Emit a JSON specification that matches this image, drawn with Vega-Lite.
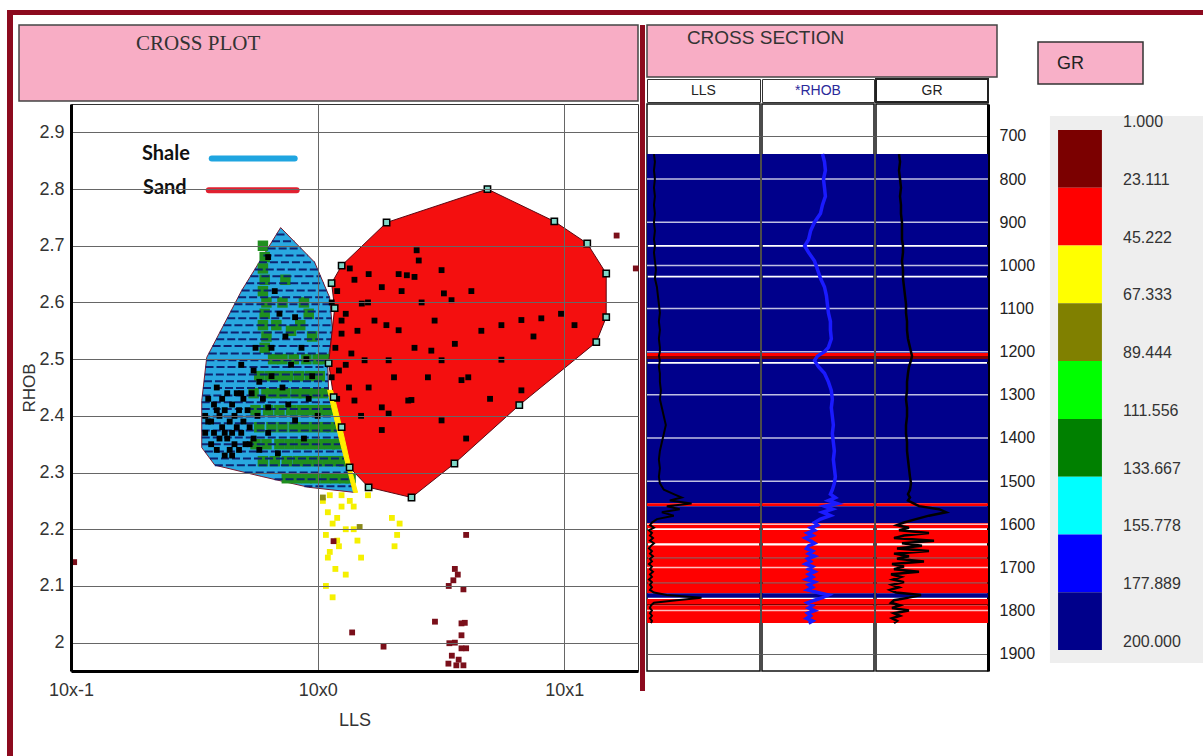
{
"$schema": "https://vega.github.io/schema/vega-lite/v6.json",
"padding": {"left": 7, "top": 10, "right": 0, "bottom": 0},
"background": "white",
"config": {"view": {"stroke": null}, "font": "Liberation Sans"},
"datasets": {
"shale": [
{"i":0,"LLS":0.708,"RHOB":2.732},{"i":1,"LLS":0.972,"RHOB":2.671},{"i":2,"LLS":1.118,"RHOB":2.609},{"i":3,"LLS":1.150,"RHOB":2.551},{"i":4,"LLS":1.098,"RHOB":2.494},{"i":5,"LLS":1.108,"RHOB":2.440},{"i":6,"LLS":1.412,"RHOB":2.265},{"i":7,"LLS":0.920,"RHOB":2.274},{"i":8,"LLS":0.594,"RHOB":2.293},{"i":9,"LLS":0.383,"RHOB":2.313},{"i":10,"LLS":0.339,"RHOB":2.344},{"i":11,"LLS":0.339,"RHOB":2.427},{"i":12,"LLS":0.355,"RHOB":2.503},{"i":13,"LLS":0.492,"RHOB":2.621}],
"sand": [
{"i":0,"LLS":4.88,"RHOB":2.800},{"i":1,"LLS":9.11,"RHOB":2.743},{"i":2,"LLS":12.39,"RHOB":2.704},{"i":3,"LLS":14.79,"RHOB":2.651},{"i":4,"LLS":14.79,"RHOB":2.574},{"i":5,"LLS":13.48,"RHOB":2.530},{"i":6,"LLS":6.57,"RHOB":2.419},{"i":7,"LLS":3.586,"RHOB":2.316},{"i":8,"LLS":2.402,"RHOB":2.256},{"i":9,"LLS":1.609,"RHOB":2.274},{"i":10,"LLS":1.348,"RHOB":2.309},{"i":11,"LLS":1.251,"RHOB":2.380},{"i":12,"LLS":1.161,"RHOB":2.433},{"i":13,"LLS":1.108,"RHOB":2.493},{"i":14,"LLS":1.172,"RHOB":2.590},{"i":15,"LLS":1.139,"RHOB":2.634},{"i":16,"LLS":1.251,"RHOB":2.665},{"i":17,"LLS":1.903,"RHOB":2.741}],
"yel": [
{"i":0,"LLS":1.098,"RHOB":2.445},{"i":1,"LLS":1.150,"RHOB":2.445},{"i":2,"LLS":1.262,"RHOB":2.374},{"i":3,"LLS":1.373,"RHOB":2.304},{"i":4,"LLS":1.452,"RHOB":2.265},{"i":5,"LLS":1.398,"RHOB":2.265},{"i":6,"LLS":1.228,"RHOB":2.357}],
"hatch": [
{"y":2.720,"a":0.681,"b":0.755},{"y":2.708,"a":0.653,"b":0.804},{"y":2.695,"a":0.627,"b":0.857},{"y":2.683,"a":0.603,"b":0.913},{"y":2.671,"a":0.578,"b":0.972},{"y":2.658,"a":0.556,"b":1.000},{"y":2.646,"a":0.534,"b":1.028},{"y":2.634,"a":0.513,"b":1.058},{"y":2.621,"a":0.492,"b":1.087},{"y":2.609,"a":0.476,"b":1.118},{"y":2.597,"a":0.460,"b":1.124},{"y":2.584,"a":0.444,"b":1.131},{"y":2.572,"a":0.430,"b":1.138},{"y":2.560,"a":0.415,"b":1.145},{"y":2.547,"a":0.401,"b":1.147},{"y":2.535,"a":0.388,"b":1.135},{"y":2.523,"a":0.375,"b":1.124},{"y":2.510,"a":0.362,"b":1.112},{"y":2.498,"a":0.354,"b":1.101},{"y":2.486,"a":0.351,"b":1.100},{"y":2.473,"a":0.349,"b":1.102},{"y":2.461,"a":0.346,"b":1.104},{"y":2.449,"a":0.343,"b":1.106},{"y":2.436,"a":0.341,"b":1.113},{"y":2.424,"a":0.339,"b":1.133},{"y":2.412,"a":0.339,"b":1.152},{"y":2.399,"a":0.339,"b":1.172},{"y":2.387,"a":0.339,"b":1.193},{"y":2.374,"a":0.339,"b":1.214},{"y":2.362,"a":0.339,"b":1.235},{"y":2.350,"a":0.339,"b":1.255},{"y":2.337,"a":0.349,"b":1.277},{"y":2.325,"a":0.366,"b":1.299},{"y":2.313,"a":0.383,"b":1.321},{"y":2.300,"a":0.506,"b":1.344},{"y":2.288,"a":0.669,"b":1.368},{"y":2.276,"a":0.884,"b":1.392}],
"leg": [
{"name":"Shale","tx":0.194,"ty":2.861,"a":0.372,"b":0.807,"ly":2.854},
{"name":"Sand","tx":0.196,"ty":2.801,"a":0.362,"b":0.822,"ly":2.798}],
"pts": [
{"LLS":0.60,"RHOB":2.70,"c":"g"},{"LLS":0.61,"RHOB":2.68,"c":"g"},{"LLS":0.60,"RHOB":2.66,"c":"g"},{"LLS":0.61,"RHOB":2.64,"c":"g"},{"LLS":0.60,"RHOB":2.62,"c":"g"},{"LLS":0.62,"RHOB":2.60,"c":"g"},{"LLS":0.61,"RHOB":2.58,"c":"g"},{"LLS":0.60,"RHOB":2.56,"c":"g"},{"LLS":0.62,"RHOB":2.54,"c":"g"},{"LLS":0.61,"RHOB":2.52,"c":"g"},
{"LLS":0.74,"RHOB":2.64,"c":"g"},{"LLS":0.72,"RHOB":2.60,"c":"g"},{"LLS":0.68,"RHOB":2.56,"c":"g"},{"LLS":0.78,"RHOB":2.55,"c":"g"},{"LLS":0.85,"RHOB":2.56,"c":"g"},{"LLS":0.92,"RHOB":2.58,"c":"g"},{"LLS":0.95,"RHOB":2.54,"c":"g"},{"LLS":0.88,"RHOB":2.60,"c":"g"},
{"LLS":0.66,"RHOB":2.50,"c":"g"},{"LLS":0.72,"RHOB":2.50,"c":"g"},{"LLS":0.80,"RHOB":2.50,"c":"g"},{"LLS":0.90,"RHOB":2.50,"c":"g"},{"LLS":1.0,"RHOB":2.50,"c":"g"},{"LLS":1.06,"RHOB":2.50,"c":"g"},
{"LLS":0.58,"RHOB":2.47,"c":"g"},{"LLS":0.64,"RHOB":2.47,"c":"g"},{"LLS":0.70,"RHOB":2.47,"c":"g"},{"LLS":0.76,"RHOB":2.47,"c":"g"},{"LLS":0.84,"RHOB":2.47,"c":"g"},{"LLS":0.93,"RHOB":2.47,"c":"g"},{"LLS":1.02,"RHOB":2.47,"c":"g"},
{"LLS":0.55,"RHOB":2.44,"c":"g"},{"LLS":0.62,"RHOB":2.44,"c":"g"},{"LLS":0.68,"RHOB":2.44,"c":"g"},{"LLS":0.74,"RHOB":2.44,"c":"g"},{"LLS":0.82,"RHOB":2.44,"c":"g"},{"LLS":0.88,"RHOB":2.44,"c":"g"},{"LLS":0.96,"RHOB":2.44,"c":"g"},{"LLS":1.05,"RHOB":2.44,"c":"g"},
{"LLS":0.56,"RHOB":2.41,"c":"g"},{"LLS":0.63,"RHOB":2.41,"c":"g"},{"LLS":0.70,"RHOB":2.41,"c":"g"},{"LLS":0.78,"RHOB":2.41,"c":"g"},{"LLS":0.86,"RHOB":2.41,"c":"g"},{"LLS":0.94,"RHOB":2.41,"c":"g"},{"LLS":1.02,"RHOB":2.41,"c":"g"},{"LLS":1.10,"RHOB":2.41,"c":"g"},
{"LLS":0.58,"RHOB":2.38,"c":"g"},{"LLS":0.65,"RHOB":2.38,"c":"g"},{"LLS":0.72,"RHOB":2.38,"c":"g"},{"LLS":0.80,"RHOB":2.38,"c":"g"},{"LLS":0.88,"RHOB":2.38,"c":"g"},{"LLS":0.97,"RHOB":2.38,"c":"g"},{"LLS":1.06,"RHOB":2.38,"c":"g"},{"LLS":1.14,"RHOB":2.38,"c":"g"},
{"LLS":0.56,"RHOB":2.35,"c":"g"},{"LLS":0.62,"RHOB":2.35,"c":"g"},{"LLS":0.70,"RHOB":2.35,"c":"g"},{"LLS":0.77,"RHOB":2.35,"c":"g"},{"LLS":0.85,"RHOB":2.35,"c":"g"},{"LLS":0.93,"RHOB":2.35,"c":"g"},{"LLS":1.02,"RHOB":2.35,"c":"g"},{"LLS":1.12,"RHOB":2.35,"c":"g"},{"LLS":1.20,"RHOB":2.35,"c":"g"},
{"LLS":0.60,"RHOB":2.32,"c":"g"},{"LLS":0.67,"RHOB":2.32,"c":"g"},{"LLS":0.75,"RHOB":2.32,"c":"g"},{"LLS":0.83,"RHOB":2.32,"c":"g"},{"LLS":0.91,"RHOB":2.32,"c":"g"},{"LLS":1.0,"RHOB":2.32,"c":"g"},{"LLS":1.10,"RHOB":2.32,"c":"g"},{"LLS":1.20,"RHOB":2.32,"c":"g"},{"LLS":1.28,"RHOB":2.32,"c":"g"},
{"LLS":0.75,"RHOB":2.29,"c":"g"},{"LLS":0.82,"RHOB":2.29,"c":"g"},{"LLS":0.90,"RHOB":2.29,"c":"g"},{"LLS":0.98,"RHOB":2.29,"c":"g"},{"LLS":1.08,"RHOB":2.29,"c":"g"},{"LLS":1.18,"RHOB":2.29,"c":"g"},{"LLS":1.28,"RHOB":2.29,"c":"g"},{"LLS":1.36,"RHOB":2.29,"c":"g"},
{"LLS":0.35,"RHOB":2.40,"c":"k"},{"LLS":0.35,"RHOB":2.37,"c":"k"},{"LLS":0.36,"RHOB":2.43,"c":"k"},{"LLS":0.37,"RHOB":2.35,"c":"k"},{"LLS":0.37,"RHOB":2.39,"c":"k"},{"LLS":0.38,"RHOB":2.42,"c":"k"},{"LLS":0.38,"RHOB":2.37,"c":"k"},{"LLS":0.39,"RHOB":2.45,"c":"k"},{"LLS":0.39,"RHOB":2.34,"c":"k"},{"LLS":0.40,"RHOB":2.40,"c":"k"},{"LLS":0.40,"RHOB":2.36,"c":"k"},{"LLS":0.41,"RHOB":2.43,"c":"k"},{"LLS":0.41,"RHOB":2.38,"c":"k"},{"LLS":0.42,"RHOB":2.33,"c":"k"},{"LLS":0.42,"RHOB":2.41,"c":"k"},{"LLS":0.43,"RHOB":2.36,"c":"k"},{"LLS":0.43,"RHOB":2.44,"c":"k"},{"LLS":0.44,"RHOB":2.39,"c":"k"},{"LLS":0.44,"RHOB":2.34,"c":"k"},{"LLS":0.45,"RHOB":2.42,"c":"k"},{"LLS":0.45,"RHOB":2.37,"c":"k"},{"LLS":0.46,"RHOB":2.40,"c":"k"},{"LLS":0.46,"RHOB":2.35,"c":"k"},{"LLS":0.47,"RHOB":2.44,"c":"k"},{"LLS":0.47,"RHOB":2.38,"c":"k"},{"LLS":0.48,"RHOB":2.41,"c":"k"},{"LLS":0.48,"RHOB":2.34,"c":"k"},{"LLS":0.49,"RHOB":2.37,"c":"k"},{"LLS":0.50,"RHOB":2.43,"c":"k"},{"LLS":0.50,"RHOB":2.39,"c":"k"},{"LLS":0.51,"RHOB":2.35,"c":"k"},{"LLS":0.52,"RHOB":2.41,"c":"k"},{"LLS":0.53,"RHOB":2.38,"c":"k"},{"LLS":0.54,"RHOB":2.44,"c":"k"},{"LLS":0.55,"RHOB":2.36,"c":"k"},{"LLS":0.57,"RHOB":2.40,"c":"k"},{"LLS":0.58,"RHOB":2.46,"c":"k"},{"LLS":0.60,"RHOB":2.43,"c":"k"},{"LLS":0.36,"RHOB":2.39,"c":"k"},{"LLS":0.39,"RHOB":2.41,"c":"k"},{"LLS":0.42,"RHOB":2.37,"c":"k"},{"LLS":0.45,"RHOB":2.33,"c":"k"},{"LLS":0.49,"RHOB":2.44,"c":"k"},{"LLS":0.53,"RHOB":2.35,"c":"k"},
{"LLS":0.63,"RHOB":2.68,"c":"k"},{"LLS":0.81,"RHOB":2.574,"c":"k"},{"LLS":0.74,"RHOB":2.54,"c":"k"},{"LLS":0.65,"RHOB":2.52,"c":"k"},{"LLS":0.56,"RHOB":2.52,"c":"k"},{"LLS":0.49,"RHOB":2.49,"c":"k"},{"LLS":0.86,"RHOB":2.52,"c":"k"},{"LLS":0.78,"RHOB":2.49,"c":"k"},{"LLS":0.65,"RHOB":2.47,"c":"k"},{"LLS":0.92,"RHOB":2.43,"c":"k"},{"LLS":0.72,"RHOB":2.45,"c":"k"},{"LLS":0.63,"RHOB":2.415,"c":"k"},{"LLS":0.81,"RHOB":2.392,"c":"k"},{"LLS":0.69,"RHOB":2.334,"c":"k"},{"LLS":0.58,"RHOB":2.34,"c":"k"},{"LLS":0.63,"RHOB":2.37,"c":"k"},{"LLS":0.95,"RHOB":2.47,"c":"k"},{"LLS":1.0,"RHOB":2.40,"c":"k"},{"LLS":0.88,"RHOB":2.36,"c":"k"},{"LLS":0.76,"RHOB":2.42,"c":"k"},{"LLS":0.70,"RHOB":2.58,"c":"k"},{"LLS":0.90,"RHOB":2.50,"c":"k"},{"LLS":0.55,"RHOB":2.48,"c":"k"},{"LLS":0.67,"RHOB":2.62,"c":"k"},
{"LLS":1.25,"RHOB":2.568,"c":"k"},{"LLS":1.41,"RHOB":2.64,"c":"k"},{"LLS":1.61,"RHOB":2.65,"c":"k"},{"LLS":1.82,"RHOB":2.627,"c":"k"},{"LLS":2.13,"RHOB":2.65,"c":"k"},{"LLS":2.47,"RHOB":2.645,"c":"k"},{"LLS":1.51,"RHOB":2.598,"c":"k"},{"LLS":1.25,"RHOB":2.545,"c":"k"},{"LLS":1.37,"RHOB":2.51,"c":"k"},{"LLS":1.22,"RHOB":2.48,"c":"k"},{"LLS":1.34,"RHOB":2.45,"c":"k"},{"LLS":1.61,"RHOB":2.45,"c":"k"},{"LLS":1.41,"RHOB":2.427,"c":"k"},{"LLS":1.82,"RHOB":2.415,"c":"k"},{"LLS":2.04,"RHOB":2.468,"c":"k"},{"LLS":2.47,"RHOB":2.52,"c":"k"},{"LLS":2.98,"RHOB":2.568,"c":"k"},{"LLS":3.18,"RHOB":2.498,"c":"k"},{"LLS":2.80,"RHOB":2.468,"c":"k"},{"LLS":3.6,"RHOB":2.527,"c":"k"},{"LLS":4.08,"RHOB":2.468,"c":"k"},{"LLS":2.13,"RHOB":2.551,"c":"k"},{"LLS":1.70,"RHOB":2.568,"c":"k"},{"LLS":1.94,"RHOB":2.498,"c":"k"},{"LLS":2.33,"RHOB":2.427,"c":"k"},{"LLS":1.94,"RHOB":2.404,"c":"k"},{"LLS":1.55,"RHOB":2.498,"c":"k"},{"LLS":1.14,"RHOB":2.468,"c":"k"},{"LLS":1.14,"RHOB":2.60,"c":"k"},{"LLS":2.64,"RHOB":2.60,"c":"k"},{"LLS":3.25,"RHOB":2.616,"c":"k"},{"LLS":2.57,"RHOB":2.674,"c":"k"},{"LLS":4.61,"RHOB":2.55,"c":"k"},{"LLS":5.56,"RHOB":2.56,"c":"k"},{"LLS":6.7,"RHOB":2.569,"c":"k"},{"LLS":8.07,"RHOB":2.572,"c":"k"},{"LLS":9.7,"RHOB":2.58,"c":"k"},{"LLS":3.49,"RHOB":2.604,"c":"k"},{"LLS":4.2,"RHOB":2.62,"c":"k"},{"LLS":2.89,"RHOB":2.515,"c":"k"},{"LLS":3.83,"RHOB":2.463,"c":"k"},{"LLS":5.56,"RHOB":2.499,"c":"k"},{"LLS":6.7,"RHOB":2.445,"c":"k"},{"LLS":2.4,"RHOB":2.428,"c":"k"},{"LLS":3.18,"RHOB":2.392,"c":"k"},{"LLS":1.82,"RHOB":2.375,"c":"k"},{"LLS":2.19,"RHOB":2.62,"c":"k"},{"LLS":2.52,"RHOB":2.692,"c":"k"},{"LLS":2.3,"RHOB":2.648,"c":"k"},{"LLS":3.18,"RHOB":2.657,"c":"k"},{"LLS":1.2,"RHOB":2.62,"c":"k"},{"LLS":1.3,"RHOB":2.58,"c":"k"},{"LLS":1.18,"RHOB":2.52,"c":"k"},{"LLS":1.45,"RHOB":2.55,"c":"k"},{"LLS":1.3,"RHOB":2.49,"c":"k"},{"LLS":1.2,"RHOB":2.43,"c":"k"},{"LLS":1.5,"RHOB":2.40,"c":"k"},{"LLS":7.5,"RHOB":2.54,"c":"k"},{"LLS":11,"RHOB":2.56,"c":"k"},{"LLS":5.0,"RHOB":2.43,"c":"k"},{"LLS":4.0,"RHOB":2.36,"c":"k"},{"LLS":1.35,"RHOB":2.66,"c":"k"},{"LLS":1.6,"RHOB":2.60,"c":"k"},{"LLS":1.9,"RHOB":2.56,"c":"k"},
{"LLS":1.05,"RHOB":2.25,"c":"y"},{"LLS":1.1,"RHOB":2.23,"c":"y"},{"LLS":1.15,"RHOB":2.21,"c":"y"},{"LLS":1.08,"RHOB":2.19,"c":"y"},{"LLS":1.2,"RHOB":2.22,"c":"y"},{"LLS":1.25,"RHOB":2.24,"c":"y"},{"LLS":1.3,"RHOB":2.20,"c":"y"},{"LLS":1.12,"RHOB":2.16,"c":"y"},{"LLS":1.18,"RHOB":2.13,"c":"y"},{"LLS":1.08,"RHOB":2.10,"c":"y"},{"LLS":1.1,"RHOB":2.15,"c":"y"},{"LLS":1.22,"RHOB":2.17,"c":"y"},{"LLS":1.35,"RHOB":2.25,"c":"y"},{"LLS":1.4,"RHOB":2.20,"c":"y"},{"LLS":1.5,"RHOB":2.15,"c":"y"},{"LLS":1.45,"RHOB":2.18,"c":"y"},{"LLS":1.3,"RHOB":2.12,"c":"y"},{"LLS":1.15,"RHOB":2.08,"c":"y"},{"LLS":2.0,"RHOB":2.22,"c":"y"},{"LLS":2.1,"RHOB":2.19,"c":"y"},{"LLS":2.05,"RHOB":2.17,"c":"y"},{"LLS":2.15,"RHOB":2.21,"c":"y"},{"LLS":1.6,"RHOB":2.26,"c":"y"},{"LLS":1.25,"RHOB":2.26,"c":"y"},{"LLS":1.4,"RHOB":2.24,"c":"y"},{"LLS":1.12,"RHOB":2.26,"c":"y"},{"LLS":1.2,"RHOB":2.18,"c":"y"},
{"LLS":1.05,"RHOB":2.256,"c":"o"},{"LLS":1.48,"RHOB":2.204,"c":"o"},
{"LLS":4.0,"RHOB":2.19,"c":"r"},{"LLS":3.6,"RHOB":2.13,"c":"r"},{"LLS":3.55,"RHOB":2.11,"c":"r"},{"LLS":3.4,"RHOB":2.10,"c":"r"},{"LLS":3.9,"RHOB":2.094,"c":"r"},{"LLS":2.99,"RHOB":2.037,"c":"r"},{"LLS":3.83,"RHOB":2.034,"c":"r"},{"LLS":3.95,"RHOB":2.035,"c":"r"},{"LLS":3.83,"RHOB":2.013,"c":"r"},{"LLS":3.42,"RHOB":1.999,"c":"r"},{"LLS":3.83,"RHOB":1.99,"c":"r"},{"LLS":4.0,"RHOB":1.99,"c":"r"},{"LLS":3.5,"RHOB":1.977,"c":"r"},{"LLS":3.39,"RHOB":1.963,"c":"r"},{"LLS":3.65,"RHOB":1.96,"c":"r"},{"LLS":3.9,"RHOB":1.96,"c":"r"},{"LLS":3.73,"RHOB":1.97,"c":"r"},{"LLS":1.38,"RHOB":2.018,"c":"r"},{"LLS":1.85,"RHOB":1.993,"c":"r"},{"LLS":1.16,"RHOB":2.179,"c":"r"},{"LLS":16.3,"RHOB":2.718,"c":"r"},{"LLS":19.5,"RHOB":2.66,"c":"r"},{"LLS":0.103,"RHOB":2.142,"c":"r"},{"LLS":3.7,"RHOB":2.12,"c":"r"},{"LLS":3.6,"RHOB":2.0,"c":"r"}],
"bands": [
{"top":742,"base":953,"GR":190},{"top":957,"base":1024,"GR":190},{"top":1028,"base":1203,"GR":190},{"top":1203,"base":1210,"GR":35},{"top":1210,"base":1217,"GR":12},{"top":1217,"base":1224,"GR":190},{"top":1228,"base":1551,"GR":190},{"top":1551,"base":1558,"GR":30},{"top":1558,"base":1597,"GR":190},{"top":1597,"base":1609,"GR":35},{"top":1613,"base":1644,"GR":35},{"top":1649,"base":1677,"GR":35},{"top":1677,"base":1680,"GR":12},{"top":1680,"base":1735,"GR":35},{"top":1735,"base":1738,"GR":12},{"top":1738,"base":1760,"GR":35},{"top":1760,"base":1770,"GR":190},{"top":1773,"base":1785,"GR":35},{"top":1785,"base":1788,"GR":12},{"top":1788,"base":1829,"GR":35}],
"grid": [{"d":800},{"d":900},{"d":1000},{"d":1100},{"d":1200},{"d":1300},{"d":1400},{"d":1500},{"d":1600},{"d":1700},{"d":1800}],
"logs": [
{"depth":742,"LLS":0.353,"RHOB":2.490,"GR":41.1},{"depth":760,"LLS":0.381,"RHOB":2.508,"GR":42.9},{"depth":780,"LLS":0.353,"RHOB":2.516,"GR":41.1},{"depth":800,"LLS":0.381,"RHOB":2.499,"GR":42.9},{"depth":820,"LLS":0.353,"RHOB":2.508,"GR":44.6},{"depth":840,"LLS":0.381,"RHOB":2.516,"GR":42.9},{"depth":860,"LLS":0.353,"RHOB":2.490,"GR":44.6},{"depth":880,"LLS":0.381,"RHOB":2.472,"GR":44.6},{"depth":900,"LLS":0.353,"RHOB":2.419,"GR":46.4},{"depth":920,"LLS":0.381,"RHOB":2.384,"GR":46.4},{"depth":940,"LLS":0.353,"RHOB":2.366,"GR":46.4},{"depth":955,"LLS":0.381,"RHOB":2.331,"GR":48.2},{"depth":970,"LLS":0.353,"RHOB":2.366,"GR":48.2},{"depth":990,"LLS":0.381,"RHOB":2.419,"GR":46.4},{"depth":1010,"LLS":0.414,"RHOB":2.446,"GR":48.2},{"depth":1030,"LLS":0.381,"RHOB":2.472,"GR":48.2},{"depth":1050,"LLS":0.449,"RHOB":2.508,"GR":50.0},{"depth":1070,"LLS":0.486,"RHOB":2.525,"GR":51.8},{"depth":1090,"LLS":0.527,"RHOB":2.534,"GR":53.6},{"depth":1110,"LLS":0.572,"RHOB":2.543,"GR":53.6},{"depth":1130,"LLS":0.527,"RHOB":2.561,"GR":55.4},{"depth":1150,"LLS":0.572,"RHOB":2.561,"GR":55.4},{"depth":1170,"LLS":0.527,"RHOB":2.569,"GR":57.1},{"depth":1190,"LLS":0.572,"RHOB":2.543,"GR":60.7},{"depth":1200,"LLS":0.572,"RHOB":2.508,"GR":62.5},{"depth":1210,"LLS":0.527,"RHOB":2.446,"GR":64.3},{"depth":1220,"LLS":0.572,"RHOB":2.419,"GR":62.5},{"depth":1235,"LLS":0.527,"RHOB":2.454,"GR":58.9},{"depth":1250,"LLS":0.572,"RHOB":2.508,"GR":57.1},{"depth":1270,"LLS":0.572,"RHOB":2.543,"GR":55.4},{"depth":1290,"LLS":0.620,"RHOB":2.569,"GR":55.4},{"depth":1310,"LLS":0.572,"RHOB":2.578,"GR":53.6},{"depth":1330,"LLS":0.672,"RHOB":2.569,"GR":55.4},{"depth":1350,"LLS":0.790,"RHOB":2.578,"GR":55.4},{"depth":1370,"LLS":0.928,"RHOB":2.587,"GR":53.6},{"depth":1390,"LLS":0.790,"RHOB":2.578,"GR":53.6},{"depth":1410,"LLS":0.672,"RHOB":2.587,"GR":55.4},{"depth":1430,"LLS":0.572,"RHOB":2.596,"GR":55.4},{"depth":1450,"LLS":0.527,"RHOB":2.587,"GR":57.1},{"depth":1470,"LLS":0.572,"RHOB":2.596,"GR":58.9},{"depth":1490,"LLS":0.527,"RHOB":2.605,"GR":60.7},{"depth":1505,"LLS":0.572,"RHOB":2.596,"GR":62.5},{"depth":1520,"LLS":0.790,"RHOB":2.578,"GR":60.7},{"depth":1530,"LLS":1.772,"RHOB":2.561,"GR":57.1},{"depth":1538,"LLS":3.38,"RHOB":2.605,"GR":60.7},{"depth":1545,"LLS":1.282,"RHOB":2.543,"GR":57.1},{"depth":1552,"LLS":7.58,"RHOB":2.623,"GR":67.9},{"depth":1558,"LLS":1.007,"RHOB":2.508,"GR":76.8},{"depth":1565,"LLS":2.876,"RHOB":2.578,"GR":112.5},{"depth":1572,"LLS":0.672,"RHOB":2.490,"GR":125.0},{"depth":1580,"LLS":1.772,"RHOB":2.561,"GR":94.6},{"depth":1588,"LLS":0.449,"RHOB":2.472,"GR":71.4},{"depth":1596,"LLS":0.299,"RHOB":2.419,"GR":50.0},{"depth":1602,"LLS":0.255,"RHOB":2.446,"GR":37.5},{"depth":1608,"LLS":0.352,"RHOB":2.384,"GR":58.9},{"depth":1614,"LLS":0.235,"RHOB":2.419,"GR":41.1},{"depth":1620,"LLS":0.299,"RHOB":2.357,"GR":94.6},{"depth":1626,"LLS":0.255,"RHOB":2.401,"GR":50.0},{"depth":1632,"LLS":0.325,"RHOB":2.339,"GR":32.1},{"depth":1638,"LLS":0.255,"RHOB":2.384,"GR":103.6},{"depth":1644,"LLS":0.352,"RHOB":2.419,"GR":46.4},{"depth":1650,"LLS":0.276,"RHOB":2.366,"GR":82.1},{"depth":1656,"LLS":0.235,"RHOB":2.348,"GR":37.5},{"depth":1662,"LLS":0.299,"RHOB":2.401,"GR":94.6},{"depth":1668,"LLS":0.255,"RHOB":2.366,"GR":32.1},{"depth":1674,"LLS":0.325,"RHOB":2.419,"GR":58.9},{"depth":1680,"LLS":0.255,"RHOB":2.357,"GR":37.5},{"depth":1686,"LLS":0.299,"RHOB":2.384,"GR":85.7},{"depth":1692,"LLS":0.235,"RHOB":2.339,"GR":28.6},{"depth":1698,"LLS":0.299,"RHOB":2.401,"GR":50.0},{"depth":1704,"LLS":0.255,"RHOB":2.366,"GR":32.1},{"depth":1710,"LLS":0.325,"RHOB":2.419,"GR":76.8},{"depth":1716,"LLS":0.255,"RHOB":2.366,"GR":26.8},{"depth":1722,"LLS":0.299,"RHOB":2.401,"GR":44.6},{"depth":1728,"LLS":0.235,"RHOB":2.348,"GR":30.4},{"depth":1734,"LLS":0.299,"RHOB":2.419,"GR":50.0},{"depth":1740,"LLS":0.255,"RHOB":2.366,"GR":28.6},{"depth":1746,"LLS":0.299,"RHOB":2.401,"GR":41.1},{"depth":1752,"LLS":0.255,"RHOB":2.357,"GR":25.0},{"depth":1758,"LLS":0.352,"RHOB":2.446,"GR":35.7},{"depth":1764,"LLS":1.007,"RHOB":2.543,"GR":80.4},{"depth":1770,"LLS":17.0,"RHOB":2.490,"GR":58.9},{"depth":1776,"LLS":2.258,"RHOB":2.419,"GR":32.1},{"depth":1782,"LLS":0.352,"RHOB":2.357,"GR":26.8},{"depth":1788,"LLS":0.276,"RHOB":2.401,"GR":42.9},{"depth":1794,"LLS":0.255,"RHOB":2.366,"GR":28.6},{"depth":1800,"LLS":0.299,"RHOB":2.419,"GR":58.9},{"depth":1806,"LLS":0.255,"RHOB":2.357,"GR":32.1},{"depth":1812,"LLS":0.299,"RHOB":2.384,"GR":42.9},{"depth":1818,"LLS":0.255,"RHOB":2.348,"GR":28.6},{"depth":1824,"LLS":0.299,"RHOB":2.401,"GR":37.5},{"depth":1829,"LLS":0.276,"RHOB":2.366,"GR":32.1}],
"bins": [{"lo":1,"hi":23.111},{"lo":23.111,"hi":45.222},{"lo":45.222,"hi":67.333},{"lo":67.333,"hi":89.444},{"lo":89.444,"hi":111.556},{"lo":111.556,"hi":133.667},{"lo":133.667,"hi":155.778},{"lo":155.778,"hi":177.889},{"lo":177.889,"hi":200}],
"ticks": [{"v":1},{"v":23.111},{"v":45.222},{"v":67.333},{"v":89.444},{"v":111.556},{"v":133.667},{"v":155.778},{"v":177.889},{"v":200}]
},
"hconcat": [
 {"width": 6, "height": 746, "view": {"fill": "#8c0a1e", "stroke": null}, "data": {"values": [{}]}, "mark": {"type": "rect", "opacity": 0}, "encoding": {}},
 {"vconcat": [
 {"width": 1190, "height": 5, "view": {"fill": "#8c0a1e", "stroke": null}, "data": {"values": [{}]}, "mark": {"type": "rect", "opacity": 0}, "encoding": {}},
 {"hconcat": [
  {"width": 1, "height": 10, "data": {"values": [{}]}, "mark": {"type": "rect", "opacity": 0}, "encoding": {}},
  {"hconcat": [
   {"hconcat": [
    {"vconcat": [
     {"width": 619, "height": 76, "view": {"fill": "#f8adc5", "stroke": "#444", "strokeWidth": 1.5},
      "data": {"values": [{"t": "CROSS PLOT"}]},
      "mark": {"type": "text", "font": "Liberation Serif", "fontSize": 21, "color": "#333", "align": "left", "baseline": "middle"},
      "encoding": {"text": {"field": "t"},
        "x": {"datum": 0.189, "type": "quantitative", "scale": {"domain": [0, 1]}, "axis": null},
        "y": {"datum": 0.75, "type": "quantitative", "scale": {"domain": [0, 1]}, "axis": null}}},
     {"hconcat": [
      {"width": 52, "height": 567, "data": {"values": [{}]}, "mark": {"type": "point", "opacity": 0},
       "encoding": {"y": {"datum": 2.5, "type": "quantitative", "scale": {"domain": [1.95, 2.95], "zero": false, "nice": false},
         "axis": {"orient": "left", "offset": -52, "values": [2, 2.1, 2.2, 2.3, 2.4, 2.5, 2.6, 2.7, 2.8, 2.9], "labelExpr": "datum.value == 2 ? '2' : format(datum.value, '.1f')", "title": "RHOB", "grid": false, "ticks": false, "domain": false, "labelFontSize": 18, "labelColor": "#333", "labelPadding": 7, "labelFlush": false, "titleFontSize": 17, "titleFontWeight": "normal", "titleColor": "#333", "titlePadding": 0}}}},
      {"width": 567, "height": 567, "view": {"stroke": "#333", "strokeWidth": 1},
      "layer": [
       {"data": {"name": "shale"}, "mark": {"type": "line", "interpolate": "linear-closed", "fill": "#29a8e0", "stroke": "#7a1a30", "strokeWidth": 1},
        "encoding": {
         "x": {"field": "LLS", "type": "quantitative", "scale": {"type": "log", "domain": [0.1, 19.9], "nice": false},
           "axis": {"values": [0.1, 1, 10], "labelExpr": "datum.value < 0.5 ? '10x-1' : (datum.value < 5 ? '10x0' : '10x1')", "title": "LLS", "grid": true, "gridColor": "#666", "ticks": false, "domainColor": "#000", "domainWidth": 3, "labelFontSize": 18, "labelColor": "#333", "labelPadding": 10, "labelFlush": false, "titleFontSize": 18, "titleFontWeight": "normal", "titleColor": "#333", "titlePadding": 12, "zindex": 1}},
         "y": {"field": "RHOB", "type": "quantitative", "scale": {"domain": [1.95, 2.95], "zero": false, "nice": false},
           "axis": {"values": [2, 2.1, 2.2, 2.3, 2.4, 2.5, 2.6, 2.7, 2.8, 2.9], "labels": false, "title": null, "grid": true, "gridColor": "#666", "ticks": false, "domainColor": "#000", "domainWidth": 3, "zindex": 1}},
         "order": {"field": "i", "type": "quantitative"}}},
       {"data": {"name": "pts"}, "transform": [{"filter": "datum.c == 'g'"}], "mark": {"type": "point", "shape": "square", "filled": true, "color": "#1f8f1f", "size": 110, "opacity": 1},
        "encoding": {"x": {"field": "LLS", "type": "quantitative"}, "y": {"field": "RHOB", "type": "quantitative"}}},
       {"data": {"name": "hatch"}, "mark": {"type": "rule", "color": "#0d2370", "strokeWidth": 2, "strokeDash": [8, 3]},
        "encoding": {"x": {"field": "a", "type": "quantitative"}, "x2": {"field": "b"}, "y": {"field": "y", "type": "quantitative"}}},
       {"data": {"name": "sand"}, "mark": {"type": "line", "interpolate": "linear-closed", "fill": "#f40f0f", "stroke": "#5a0a14", "strokeWidth": 1},
        "encoding": {"x": {"field": "LLS", "type": "quantitative"}, "y": {"field": "RHOB", "type": "quantitative"}, "order": {"field": "i", "type": "quantitative"}}},
       {"data": {"name": "yel"}, "mark": {"type": "line", "interpolate": "linear-closed", "fill": "#ffee00", "stroke": "#ffee00", "strokeWidth": 1},
        "encoding": {"x": {"field": "LLS", "type": "quantitative"}, "y": {"field": "RHOB", "type": "quantitative"}, "order": {"field": "i", "type": "quantitative"}}},
       {"data": {"name": "pts"}, "transform": [{"filter": "datum.c != 'g'"}], "mark": {"type": "point", "shape": "square", "filled": true, "size": 34, "opacity": 1},
        "encoding": {"x": {"field": "LLS", "type": "quantitative"}, "y": {"field": "RHOB", "type": "quantitative"},
          "fill": {"field": "c", "type": "nominal", "scale": {"domain": ["k", "y", "o", "r"], "range": ["#000000", "#f5f000", "#8a8a1a", "#7a0f1a"]}, "legend": null}}},
       {"data": {"name": "sand"}, "mark": {"type": "point", "shape": "square", "filled": true, "color": "#80d8c8", "stroke": "#000", "strokeWidth": 1.5, "size": 40, "opacity": 1},
        "encoding": {"x": {"field": "LLS", "type": "quantitative"}, "y": {"field": "RHOB", "type": "quantitative"}}},
       {"mark": {"type": "rule", "color": "#000", "strokeWidth": 2.5}, "encoding": {"x": {"datum": 1, "type": "quantitative"}}},
       {"data": {"name": "leg"}, "mark": {"type": "rule", "strokeWidth": 6, "strokeCap": "round"},
        "encoding": {"x": {"field": "a", "type": "quantitative"}, "x2": {"field": "b"}, "y": {"field": "ly", "type": "quantitative"},
          "stroke": {"field": "name", "type": "nominal", "scale": {"domain": ["Shale", "Sand"], "range": ["#1fa5e0", "#e02030"]}, "legend": null}}},
       {"data": {"name": "leg"}, "mark": {"type": "text", "font": "Lato", "fontWeight": "bold", "fontSize": 20, "color": "#111", "align": "left", "baseline": "middle"},
        "encoding": {"x": {"field": "tx", "type": "quantitative"}, "y": {"field": "ty", "type": "quantitative"}, "text": {"field": "name"}}}
      ]}
     ], "spacing": 0, "bounds": "flush"}
    ], "spacing": 1},
    {"width": 5, "height": 666, "view": {"fill": "#8c0a1e", "stroke": null}, "data": {"values": [{}]}, "mark": {"type": "rect", "opacity": 0}, "encoding": {}}
   ], "spacing": 0},
   {"hconcat": [
    {"vconcat": [
     {"width": 350, "height": 52, "view": {"fill": "#f8adc5", "stroke": "#444", "strokeWidth": 1.5},
      "data": {"values": [{"t": "CROSS SECTION"}]},
      "mark": {"type": "text", "fontSize": 19, "color": "#333", "align": "left", "baseline": "middle"},
      "encoding": {"text": {"field": "t"},
        "x": {"datum": 0.114, "type": "quantitative", "scale": {"domain": [0, 1]}, "axis": null},
        "y": {"datum": 0.755, "type": "quantitative", "scale": {"domain": [0, 1]}, "axis": null}}},
     {"hconcat": [
      {"vconcat": [
       {"width": 113, "height": 23, "view": {"fill": "#fff", "stroke": "#333", "strokeWidth": 1}, "data": {"values": [{"t": "LLS"}]},
        "mark": {"type": "text", "fontSize": 14, "color": "#222"}, "encoding": {"text": {"field": "t"}}},
       {"width": 113, "height": 567, "view": {"stroke": "#111", "strokeWidth": 1.5},
        "layer": [
         {"data": {"name": "bands"}, "mark": "rect",
          "encoding": {
           "y": {"field": "top", "type": "quantitative", "scale": {"domain": [626, 1940], "reverse": true, "nice": false, "zero": false},
             "axis": {"orient": "left", "values": [700, 800, 900, 1000, 1100, 1200, 1300, 1400, 1500, 1600, 1700, 1800, 1900], "grid": true, "gridColor": "#666", "labels": false, "ticks": false, "domain": false, "title": null, "minExtent": 0, "maxExtent": 0}},
           "y2": {"field": "base"},
           "x": {"datum": 0.2, "type": "quantitative", "scale": {"type": "log", "domain": [0.2, 2000], "nice": false}, "axis": null},
           "x2": {"datum": 2000},
           "color": {"field": "GR", "type": "quantitative", "scale": {"type": "threshold", "domain": [23.111, 45.222, 67.333, 89.444, 111.556, 133.667, 155.778, 177.889], "range": ["#7b0000", "#ff0000", "#ffff00", "#808000", "#00ff00", "#008000", "#00ffff", "#0000ff", "#00008b"]}, "legend": null}}},
         {"data": {"name": "grid"}, "mark": {"type": "rule", "color": "#ffffff", "opacity": 0.75, "strokeWidth": 1.5}, "encoding": {"y": {"field": "d", "type": "quantitative"}}},
         {"data": {"name": "logs"}, "mark": {"type": "line", "color": "#000", "strokeWidth": 2},
          "encoding": {"x": {"field": "LLS", "type": "quantitative"}, "y": {"field": "depth", "type": "quantitative"}, "order": {"field": "depth", "type": "quantitative"}}}
        ]}
      ], "spacing": 0},
      {"vconcat": [
       {"width": 112, "height": 23, "view": {"fill": "#fff", "stroke": "#333", "strokeWidth": 1}, "data": {"values": [{"t": "*RHOB"}]},
        "mark": {"type": "text", "fontSize": 14, "color": "#2a2a9a"}, "encoding": {"text": {"field": "t"}}},
       {"width": 112, "height": 567, "view": {"stroke": "#111", "strokeWidth": 1.5},
        "layer": [
         {"data": {"name": "bands"}, "mark": "rect",
          "encoding": {
           "y": {"field": "top", "type": "quantitative", "scale": {"domain": [626, 1940], "reverse": true, "nice": false, "zero": false},
             "axis": {"orient": "left", "values": [700, 800, 900, 1000, 1100, 1200, 1300, 1400, 1500, 1600, 1700, 1800, 1900], "grid": true, "gridColor": "#666", "labels": false, "ticks": false, "domain": false, "title": null, "minExtent": 0, "maxExtent": 0}},
           "y2": {"field": "base"},
           "x": {"datum": 1.95, "type": "quantitative", "scale": {"domain": [1.95, 2.95], "nice": false, "zero": false}, "axis": null},
           "x2": {"datum": 2.95},
           "color": {"field": "GR", "type": "quantitative", "scale": {"type": "threshold", "domain": [23.111, 45.222, 67.333, 89.444, 111.556, 133.667, 155.778, 177.889], "range": ["#7b0000", "#ff0000", "#ffff00", "#808000", "#00ff00", "#008000", "#00ffff", "#0000ff", "#00008b"]}, "legend": null}}},
         {"data": {"name": "grid"}, "mark": {"type": "rule", "color": "#ffffff", "opacity": 0.75, "strokeWidth": 1.5}, "encoding": {"y": {"field": "d", "type": "quantitative"}}},
         {"data": {"name": "logs"}, "mark": {"type": "line", "color": "#1a1aff", "strokeWidth": 3.5},
          "encoding": {"x": {"field": "RHOB", "type": "quantitative"}, "y": {"field": "depth", "type": "quantitative"}, "order": {"field": "depth", "type": "quantitative"}}}
        ]}
      ], "spacing": 0},
      {"vconcat": [
       {"width": 112, "height": 23, "view": {"fill": "#fff", "stroke": "#222", "strokeWidth": 2}, "data": {"values": [{"t": "GR"}]},
        "mark": {"type": "text", "fontSize": 14, "color": "#222"}, "encoding": {"text": {"field": "t"}}},
       {"width": 112, "height": 567, "view": {"stroke": "#111", "strokeWidth": 1.5},
        "layer": [
         {"data": {"name": "bands"}, "mark": "rect",
          "encoding": {
           "y": {"field": "top", "type": "quantitative", "scale": {"domain": [626, 1940], "reverse": true, "nice": false, "zero": false},
             "axis": {"orient": "right", "values": [700, 800, 900, 1000, 1100, 1200, 1300, 1400, 1500, 1600, 1700, 1800, 1900], "format": "d", "grid": true, "gridColor": "#666", "ticks": false, "domain": true, "domainColor": "#000", "domainWidth": 3, "labelFontSize": 16, "labelColor": "#222", "labelPadding": 11, "labelFlush": false, "title": null}},
           "y2": {"field": "base"},
           "x": {"datum": 0, "type": "quantitative", "scale": {"domain": [0, 200], "nice": false}, "axis": null},
           "x2": {"datum": 200},
           "color": {"field": "GR", "type": "quantitative", "scale": {"type": "threshold", "domain": [23.111, 45.222, 67.333, 89.444, 111.556, 133.667, 155.778, 177.889], "range": ["#7b0000", "#ff0000", "#ffff00", "#808000", "#00ff00", "#008000", "#00ffff", "#0000ff", "#00008b"]}, "legend": null}}},
         {"data": {"name": "grid"}, "mark": {"type": "rule", "color": "#ffffff", "opacity": 0.75, "strokeWidth": 1.5}, "encoding": {"y": {"field": "d", "type": "quantitative"}}},
         {"data": {"name": "logs"}, "mark": {"type": "line", "color": "#000", "strokeWidth": 2.5},
          "encoding": {"x": {"field": "GR", "type": "quantitative"}, "y": {"field": "depth", "type": "quantitative"}, "order": {"field": "depth", "type": "quantitative"}}}
        ]}
      ], "spacing": 0}
     ], "spacing": -2}
    ], "spacing": 0},
    {"vconcat": [
     {"width": 10, "height": 12, "data": {"values": [{}]}, "mark": {"type": "rect", "opacity": 0}, "encoding": {}},
     {"width": 105, "height": 42, "view": {"fill": "#f8b0c8", "stroke": "#333", "strokeWidth": 1.5},
      "data": {"values": [{"t": "GR"}]},
      "mark": {"type": "text", "fontSize": 18, "color": "#222", "align": "left", "baseline": "middle"},
      "encoding": {"text": {"field": "t"},
        "x": {"datum": 0.18, "type": "quantitative", "scale": {"domain": [0, 1]}, "axis": null},
        "y": {"datum": 0.476, "type": "quantitative", "scale": {"domain": [0, 1]}, "axis": null}}},
     {"width": 170, "height": 584,
      "layer": [
       {"data": {"values": [{}]}, "mark": {"type": "rect", "color": "#eeeeee"},
        "encoding": {"x": {"datum": 0.07, "type": "quantitative", "scale": {"domain": [0, 1]}, "axis": null}, "x2": {"datum": 1},
          "y": {"datum": -4.4, "type": "quantitative", "scale": {"domain": [-14.69, 208.8], "reverse": true, "nice": false, "zero": false}, "axis": null}, "y2": {"datum": 205}}},
       {"data": {"name": "bins"}, "mark": {"type": "rect"},
        "encoding": {"x": {"datum": 0.118, "type": "quantitative"}, "x2": {"datum": 0.376},
          "y": {"field": "lo", "type": "quantitative"}, "y2": {"field": "hi"},
          "color": {"field": "lo", "type": "quantitative", "scale": {"type": "threshold", "domain": [23.111, 45.222, 67.333, 89.444, 111.556, 133.667, 155.778, 177.889], "range": ["#7b0000", "#ff0000", "#ffff00", "#808000", "#00ff00", "#008000", "#00ffff", "#0000ff", "#00008b"]}, "legend": null}}},
       {"data": {"name": "ticks"}, "mark": {"type": "text", "align": "left", "baseline": "bottom", "fontSize": 16, "color": "#333"},
        "encoding": {"x": {"datum": 0.5, "type": "quantitative"}, "y": {"field": "v", "type": "quantitative"}, "text": {"field": "v", "type": "quantitative", "format": ".3f"}}}
      ]}
    ], "spacing": 4}
   ], "spacing": 1}
  ], "spacing": -1}
 ], "spacing": 4}
 ], "spacing": 9}
], "spacing": 0
}
